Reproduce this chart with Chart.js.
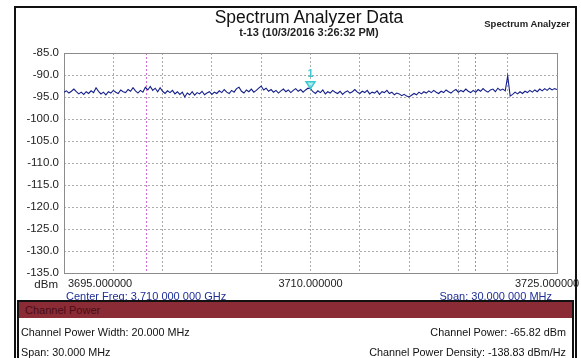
<!DOCTYPE html>
<html>
<head>
<meta charset="utf-8">
<script src="https://cdn.jsdelivr.net/npm/chart.js@4/dist/chart.umd.min.js"></script>
<style>
  body { margin: 0; width: 581px; height: 358px; overflow: hidden; background: #fff; font-family: "Liberation Sans", Arial, sans-serif; position: relative; }
  #frame { position: absolute; left: 14px; top: 6px; width: 559px; height: 400px; border: 2px solid #111; }
  #chartBox { position: absolute; left: 0; top: 0; width: 581px; height: 300px; }
  .t { position: absolute; white-space: nowrap; }
  #title { left: 0; width: 618px; top: 7px; text-align: center; font-size: 17.5px; color: #111; }
  #sub { left: 0; width: 618px; top: 26px; text-align: center; font-size: 11px; font-weight: bold; color: #222; }
  #brand { right: 11px; top: 18px; font-size: 9.5px; font-weight: bold; color: #222; }
  #dbm { right: 523px; top: 278px; font-size: 11.5px; color: #222; }
  #cf { left: 66px; top: 290px; font-size: 11px; color: #1f2f96; }
  #span { right: 29px; top: 290px; font-size: 11px; color: #1f2f96; }
  #panel { position: absolute; left: 17px; top: 300px; width: 553px; height: 80px; border: 2px solid #111; background: #fff; }
  #bar { position: absolute; left: 0; top: 0; right: 0; height: 16px; background: #8a2b36; color: #4a0d16; font-size: 11px; line-height: 17px; padding-left: 6px; }
  .row { position: absolute; left: 0; right: 0; height: 20px; font-size: 10.8px; color: #111; line-height: 20px; }
  .row .l { position: absolute; left: 2px; }
  .row .r { position: absolute; right: 6px; }
</style>
</head>
<body>
<div id="frame"></div>
<div id="chartBox"><canvas id="grafico"></canvas></div>
<div class="t" id="title">Spectrum Analyzer Data</div>
<div class="t" id="sub">t-13 (10/3/2016 3:26:32 PM)</div>
<div class="t" id="brand">Spectrum Analyzer</div>
<div class="t" id="dbm">dBm</div>
<div class="t" id="cf">Center Freq: 3.710 000 000 GHz</div>
<div class="t" id="span">Span: 30.000 000 MHz</div>
<div id="panel">
  <div id="bar">Channel Power</div>
  <div class="row" style="top:20px"><span class="l">Channel Power Width: 20.000 MHz</span><span class="r">Channel Power: -65.82 dBm</span></div>
  <div class="row" style="top:40px"><span class="l">Span: 30.000 MHz</span><span class="r">Channel Power Density: -138.83 dBm/Hz</span></div>
</div>
<script>
/* ---------- DADOS ---------- */
const START_MHZ = 3695;
const STOP_MHZ = 3725;
const STEP_MHZ = 0.15;           // 201 pontos de varredura
const X_TICK_LABELS = [3695, 3710, 3725];
const Y_MIN = -135, Y_MAX = -85, Y_STEP = 5;

// limites da largura de canal (20 MHz em torno do centro)
const CHANNEL_EDGES = [3700, 3720];

// marcador 1
const MARKER_FREQ = 3710;
const MARKER_LABEL = "1";

// traço medido (dBm)
const traceDbm = [
  -93.9,-93.6,-94.1,-93.7,-93.2,-93.8,-94.3,-93.9,-94.4,-93.8,
  -94.2,-93.6,-94.0,-92.9,-93.7,-94.3,-93.9,-94.5,-93.8,-94.1,
  -93.5,-93.9,-94.2,-93.4,-93.8,-94.0,-93.3,-93.7,-92.9,-93.6,
  -94.1,-93.5,-93.9,-92.8,-93.4,-92.6,-93.5,-93.0,-93.8,-92.9,
  -93.7,-94.2,-93.6,-94.0,-93.5,-94.3,-93.8,-94.4,-93.9,-95.0,
  -94.1,-94.5,-93.8,-94.6,-94.0,-94.3,-93.7,-94.5,-94.1,-93.8,
  -94.4,-93.9,-94.2,-93.6,-94.0,-93.3,-93.9,-94.2,-93.5,-93.9,
  -93.1,-92.8,-93.7,-94.1,-93.4,-93.8,-93.2,-93.9,-93.5,-93.0,
  -92.5,-93.4,-93.0,-93.7,-93.3,-93.9,-93.5,-94.1,-93.6,-93.2,
  -93.8,-93.4,-94.0,-93.5,-93.1,-93.7,-93.3,-93.9,-93.4,-93.0,
  -93.1,-93.8,-94.2,-93.6,-94.0,-93.4,-94.3,-93.8,-94.1,-93.5,
  -93.9,-94.2,-93.7,-94.4,-93.9,-93.6,-94.1,-93.8,-93.3,-93.9,
  -94.2,-93.7,-94.0,-93.5,-94.3,-93.9,-94.1,-93.6,-94.4,-93.8,
  -94.0,-93.5,-94.2,-93.9,-94.5,-94.1,-94.3,-94.7,-94.4,-94.8,
  -95.0,-94.6,-94.2,-94.5,-93.9,-94.3,-93.8,-94.1,-93.6,-94.0,
  -93.5,-93.9,-94.2,-93.7,-94.0,-93.4,-93.8,-94.1,-93.6,-93.3,
  -93.9,-93.5,-93.8,-93.2,-93.7,-94.0,-93.5,-93.9,-93.3,-93.7,
  -93.1,-93.6,-93.9,-93.4,-93.2,-93.8,-93.0,-93.5,-93.2,-93.6,
  -90.2,
  -94.8,-94.4,-93.9,-94.3,-93.8,-94.2,-93.7,-94.0,-93.5,-93.9,
  -93.4,-93.8,-93.2,-93.6,-93.1,-93.5,-93.0,-93.4,-93.1,-93.3
];

const pontos = traceDbm.map((v, i) => ({ x: START_MHZ + i * STEP_MHZ, y: v }));
const markerPonto = pontos.reduce((a, p) => Math.abs(p.x - MARKER_FREQ) < Math.abs(a.x - MARKER_FREQ) ? p : a);

/* ---------- PLUGIN: moldura, linhas de canal, marcador, rótulos ---------- */
const extras = {
  id: "extras",
  beforeDatasetsDraw(chart) {
    const { ctx, chartArea: a, scales: { x } } = chart;
    ctx.save();
    // linhas de limite do canal
    ctx.strokeStyle = "#d66ad6";
    ctx.lineWidth = 1;
    ctx.setLineDash([2, 2]);
    CHANNEL_EDGES.forEach(f => {
      const px = Math.round(x.getPixelForValue(f)) + 0.5;
      ctx.beginPath(); ctx.moveTo(px, a.top); ctx.lineTo(px, a.bottom); ctx.stroke();
    });
    // moldura sólida da área do gráfico
    ctx.setLineDash([]);
    ctx.strokeStyle = "#8c8c8c";
    ctx.strokeRect(Math.round(a.left) + 0.5, Math.round(a.top) + 0.5,
                   Math.round(a.right - a.left), Math.round(a.bottom - a.top));
    ctx.restore();
  },
  afterDraw(chart) {
    const { ctx, chartArea: a, scales: { x, y } } = chart;
    ctx.save();
    // marcador
    const mx = x.getPixelForValue(markerPonto.x);
    const my = y.getPixelForValue(markerPonto.y);
    ctx.beginPath();
    ctx.moveTo(mx, my);
    ctx.lineTo(mx - 4.5, my - 7);
    ctx.lineTo(mx + 4.5, my - 7);
    ctx.closePath();
    ctx.fillStyle = "rgba(120,230,230,0.6)";
    ctx.fill();
    ctx.strokeStyle = "#3cc8d0";
    ctx.lineWidth = 1.5;
    ctx.stroke();
    ctx.fillStyle = "#3cc8d0";
    ctx.font = "bold 10px 'Liberation Sans', Arial";
    ctx.textAlign = "center";
    ctx.textBaseline = "bottom";
    ctx.fillText(MARKER_LABEL, mx, my - 9);

    // rótulos do eixo x
    ctx.fillStyle = "#222";
    ctx.font = "11px 'Liberation Sans', Arial";
    ctx.textBaseline = "middle";
    X_TICK_LABELS.forEach((f, i) => {
      const px = x.getPixelForValue(f);
      const last = i === X_TICK_LABELS.length - 1;
      ctx.textAlign = i === 0 || last ? "left" : "center";
      const off = i === 0 ? 4 : (last ? -42 : 0);
      ctx.fillText(f.toFixed(6), px + off, a.bottom + 11);
    });
    ctx.restore();
  }
};

/* ---------- GRÁFICO ---------- */
new Chart(document.querySelector("#grafico"), {
  type: "line",
  data: {
    datasets: [{
      data: pontos,
      borderColor: "#14208a",
      borderWidth: 1.1,
      pointRadius: 0,
      tension: 0
    }]
  },
  options: {
    responsive: true,
    maintainAspectRatio: false,
    animation: false,
    layout: { padding: { left: 0, right: 24, top: 53, bottom: 27 } },
    plugins: { legend: { display: false }, tooltip: { enabled: false } },
    scales: {
      x: {
        type: "linear",
        min: START_MHZ, max: STOP_MHZ,
        ticks: { stepSize: 3, display: false },
        grid: { color: "#ababab", drawTicks: false },
        border: { display: false, dash: [2, 2] },
        afterFit: s => { s.height = 0; }
      },
      y: {
        min: Y_MIN, max: Y_MAX,
        ticks: {
          stepSize: Y_STEP,
          color: "#222",
          font: { size: 11.5, family: "'Liberation Sans', Arial" },
          padding: 5,
          callback: v => v.toFixed(1)
        },
        grid: { color: "#ababab", drawTicks: false },
        border: { display: false, dash: [2, 2] },
        afterFit: s => { s.width = 64; }
      }
    }
  },
  plugins: [extras]
});
</script>
</body>
</html>
